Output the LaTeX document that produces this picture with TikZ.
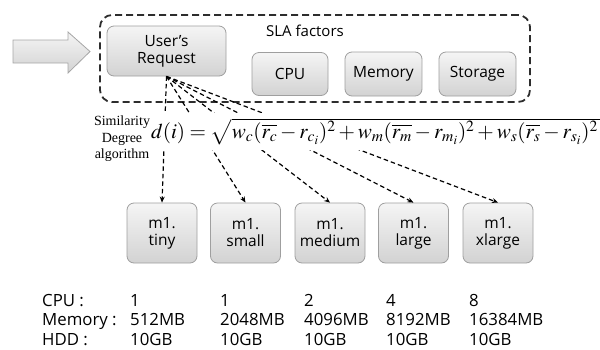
\documentclass[tikz,border=0pt]{standalone}
\usepackage[no-math]{fontspec}
\usepackage{mathptmx}
\setmainfont{Liberation Serif}
\setsansfont{Open Sans}
\usetikzlibrary{arrows.meta}

\tikzset{
  box/.style={draw=gray!75, line width=0.8pt, rounded corners=7pt,
    top color=gray!8, bottom color=gray!35, align=center,
    font=\sffamily\fontsize{15.5}{17}\selectfont, inner sep=0pt},
  frame/.style={draw=gray!35!black, line width=1.8pt, dash pattern=on 7pt off 4pt,
    rounded corners=12pt, minimum width=430pt, minimum height=87pt},
  fan/.style={line width=1.2pt, dash pattern=on 4.5pt off 3pt,
    -{Stealth[length=6pt,width=5pt]}},
  spec/.style={anchor=base west, font=\sffamily\fontsize{16.8}{18}\selectfont,
    inner sep=0pt}
}

\begin{document}
\begin{tikzpicture}[x=1pt,y=-1pt]
\useasboundingbox (0,0) rectangle (600,349);

% incoming request arrow
\draw[draw=gray!70, line width=0.8pt, top color=gray!8, bottom color=gray!35]
  (13,40) -- (68,40) -- (68,32) -- (90,51.5) -- (68,73) -- (68,63) -- (13,63) -- cycle;

% SLA factor group
\node[frame] (sla) at (315,58.5) {};
\node[font=\sffamily\fontsize{15}{17}\selectfont, inner sep=0pt] (slat) at (305,31) {SLA factors};
\node[box, minimum width=119pt, minimum height=50pt] (req) at (166.5,51) {User’s\\Request};
\node[box, minimum width=76pt, minimum height=43pt] (cpu) at (290,74) {CPU};
\node[box, minimum width=77pt, minimum height=44pt] (mem) at (383.5,74) {Memory};
\node[box, minimum width=77pt, minimum height=44pt] (sto) at (477.5,74) {Storage};

% instance types
\foreach \n/\t/\x in {tiny/tiny/162, small/small/245.5, medium/medium/330, large/large/413.5, xlarge/xlarge/498}
  \node[box, minimum width=70pt, minimum height=60pt] (\n) at (\x,233) {m1.\\\t};

% matching request against each instance type
\foreach \n in {tiny, small, medium, large, xlarge}
  \draw[fan] (req.south) -- (\n.north);

% similarity formula
\node[fill=white, anchor=base west, inner xsep=0pt, inner ysep=5pt] (eq) at (151,138)
  {\resizebox{449pt}{!}{\fontsize{21}{24}\selectfont
   $d(i) = \sqrt{w_c(\overline{r_c} - r_{c_i})^2 + w_m(\overline{r_m} - r_{m_i})^2 + w_s(\overline{r_s} - r_{s_i})^2\,}$}};
\node[align=center, font=\fontsize{14}{16.5}\selectfont, inner sep=0pt] (alg) at (122,139)
  {Similarity\\Degree\\algorithm};

% resource table
\node[spec] (l0) at (42,306) {CPU :};
\node[spec] (l1) at (42,325.5) {Memory :};
\node[spec] (l2) at (42,345) {HDD :};
\foreach \c/\x/\cpu/\mem in {1/130/1/512MB, 2/220/1/2048MB, 3/304/2/4096MB, 4/386/4/8192MB, 5/469/8/16384MB} {
  \node[spec] (cpu\c) at (\x,306) {\cpu};
  \node[spec] (mem\c) at (\x,325.5) {\mem};
  \node[spec] (hdd\c) at (\x,345) {10GB};
}
\end{tikzpicture}
\end{document}
